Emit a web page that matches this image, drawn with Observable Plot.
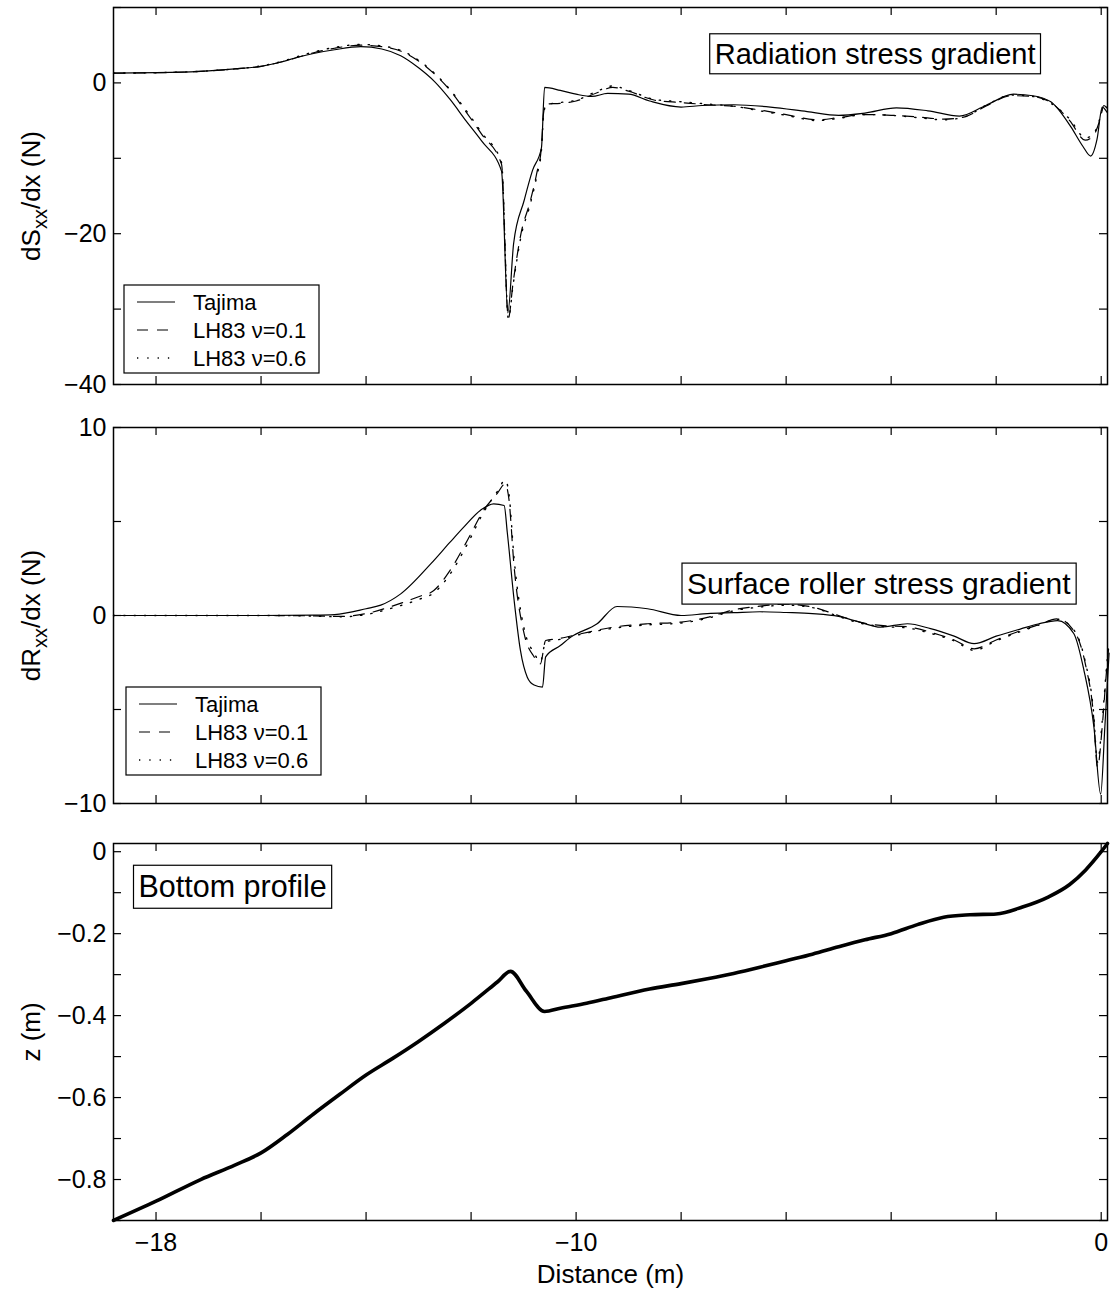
<!DOCTYPE html>
<html>
<head>
<meta charset="utf-8">
<script src="https://cdn.jsdelivr.net/npm/d3@7"></script>
<script src="https://cdn.jsdelivr.net/npm/@observablehq/plot@0.6"></script>
<style>
  body { margin: 0; background: #fff; }
  #chart { position: relative; width: 1111px; height: 1290px; background: #fff; font-family: "Liberation Sans", Arial, Helvetica, sans-serif; }
  #chart svg { position: absolute; left: 0; }
</style>
</head>
<body>
<div id="chart"></div>
<script>
// ---------- shared axis ----------
const xDomain = [-18.81, 0.12];
const xTickValues = [-18, -16, -14, -12, -10, -8, -6, -4, -2, 0];
const xTickLabels = [-18, -10, 0];
const seriesNames = ["Tajima", "LH83 \u03bd=0.1", "LH83 \u03bd=0.6"];

// ---------- panel 1: radiation stress gradient dSxx/dx (N) ----------
const sxxTajimaX = [-18.81,-18,-17,-16.5,-16,-15.6,-15.3,-15,-14.6,-14.1,-13.7,-13.34,-13,-12.7,-12.4,-12.1,-11.8,-11.42,-11.3,-11.19,-10.99,-10.83,-10.66,-10.6,-10.3,-10.0,-9.7,-9.4,-9.0,-8.6,-8.0,-7.6,-7.0,-6.3,-5.6,-5.0,-4.5,-3.9,-3.3,-2.7,-2.2,-1.67,-1.3,-0.96,-0.58,-0.35,-0.2,-0.08,0.02,0.12];
const sxxTajimaY = [1.3,1.35,1.6,1.85,2.2,2.8,3.4,3.9,4.4,4.8,4.5,3.6,2.0,0.2,-2.2,-5.0,-7.7,-11.7,-30.5,-21.3,-15.6,-11.6,-8.6,-0.6,-1.0,-1.5,-1.8,-1.4,-1.5,-2.4,-3.2,-3.0,-2.9,-3.2,-3.8,-4.3,-4.0,-3.3,-3.7,-4.4,-3.0,-1.5,-1.7,-2.5,-5.8,-8.4,-9.7,-7.5,-3.2,-4.0];
const sxxLhX = [-18.81,-18,-17,-16.5,-16,-15.6,-15.3,-15,-14.6,-14.1,-13.7,-13.3,-13,-12.7,-12.4,-12.1,-11.8,-11.42,-11.29,-11.2,-11.05,-10.87,-10.75,-10.66,-10.62,-10.57,-10.3,-10.0,-9.6,-9.3,-9.0,-8.5,-8.0,-7.5,-7.0,-6.5,-6.0,-5.4,-5.0,-4.5,-4.0,-3.5,-3.0,-2.6,-2.2,-1.7,-1.3,-0.96,-0.6,-0.3,-0.15,-0.02,0.05,0.12];
const sxxNu01Y = [1.3,1.35,1.6,1.85,2.2,2.8,3.4,4.0,4.6,5.0,4.8,4.1,2.9,1.2,-1.0,-3.8,-6.8,-10.8,-31.2,-26.5,-20.0,-15.6,-12.0,-8.5,-4.0,-2.8,-2.7,-2.4,-1.3,-0.6,-1.1,-2.3,-2.6,-2.9,-3.1,-3.6,-4.2,-4.9,-4.6,-4.2,-4.3,-4.5,-4.8,-4.5,-3.1,-1.7,-1.8,-2.6,-5.0,-7.6,-7.0,-4.8,-3.0,-3.5];
const sxxNu06Y = [1.3,1.35,1.6,1.85,2.25,2.85,3.5,4.1,4.7,5.1,4.9,4.2,3.0,1.3,-0.9,-3.6,-6.6,-10.6,-31.3,-26.8,-20.4,-16.0,-12.4,-8.9,-4.3,-2.9,-2.6,-2.3,-1.1,-0.4,-1.0,-2.2,-2.5,-2.8,-3.1,-3.7,-4.3,-5.0,-4.7,-4.2,-4.3,-4.6,-4.9,-4.5,-3.0,-1.6,-1.8,-2.7,-4.8,-7.3,-6.8,-4.6,-2.9,-3.4];
const sxxYTicks = [-40, -30, -20, -10, 0, 10];
const sxxYLabels = [-40, -20, 0];

// ---------- panel 2: surface roller stress gradient dRxx/dx (N) ----------
const rxxTajimaX = [-18.81,-17,-16,-15,-14.6,-14.0,-13.72,-13.34,-12.76,-12.4,-12.14,-11.82,-11.57,-11.37,-11.31,-11.18,-11.06,-10.93,-10.8,-10.64,-10.58,-10.3,-10.1,-9.6,-9.22,-8.64,-8.0,-7.5,-7.0,-6.5,-6.0,-5.5,-5.0,-4.6,-4.2,-3.69,-3.25,-2.8,-2.42,-2.0,-1.53,-1.2,-0.83,-0.52,-0.33,-0.14,-0.01,0.07,0.15];
const rxxTajimaY = [0,0,0,0.02,0.05,0.36,0.55,1.15,2.77,3.9,4.7,5.6,5.94,5.85,4.4,0.8,-1.86,-3.28,-3.7,-3.81,-2.2,-1.6,-1.15,-0.44,0.48,0.36,0.0,0.1,0.15,0.2,0.16,0.1,-0.05,-0.35,-0.62,-0.44,-0.7,-1.1,-1.5,-1.1,-0.71,-0.45,-0.27,-0.97,-2.9,-5.9,-9.5,-5.9,-2.0];
const rxxLhX = [-18.81,-16,-15,-14.5,-14.0,-13.5,-13.0,-12.71,-12.4,-12.07,-11.76,-11.5,-11.35,-11.28,-11.18,-10.99,-10.8,-10.68,-10.58,-10.36,-9.91,-9.29,-8.64,-8.0,-7.5,-7.0,-6.5,-6.0,-5.5,-5.0,-4.6,-4.2,-3.7,-3.25,-2.8,-2.42,-2.0,-1.53,-1.2,-0.83,-0.5,-0.3,-0.15,-0.07,0.02,0.1,0.15];
const rxxNu01Y = [0,0,-0.02,-0.05,0.1,0.5,1.0,1.33,2.4,4.0,5.6,6.5,7.0,6.2,2.57,-0.97,-2.2,-2.57,-1.33,-1.24,-0.97,-0.62,-0.44,-0.35,-0.1,0.3,0.5,0.6,0.45,0.0,-0.35,-0.53,-0.6,-0.89,-1.3,-1.77,-1.3,-0.8,-0.5,-0.18,-0.9,-2.6,-5.2,-8.07,-5.9,-3.0,-1.5];
const rxxNu06Y = [0,0,-0.03,-0.07,0.05,0.4,0.85,1.2,2.2,3.8,5.5,6.6,7.2,6.5,3.0,-0.7,-2.0,-2.45,-1.4,-1.3,-1.0,-0.68,-0.5,-0.4,-0.15,0.25,0.45,0.55,0.42,-0.05,-0.4,-0.58,-0.66,-0.95,-1.35,-1.85,-1.35,-0.85,-0.52,-0.2,-0.85,-2.5,-5.0,-7.8,-5.6,-2.8,-1.4];
const rxxYTicks = [-10, -5, 0, 5, 10];
const rxxYLabels = [-10, 0, 10];

// ---------- panel 3: bottom profile z (m) ----------
const zX = [-18.81,-18,-17.15,-16.5,-16,-15.5,-15,-14.5,-14,-13.5,-13,-12.5,-12,-11.5,-11.25,-10.95,-10.6,-10.3,-9.8,-9.3,-8.6,-8.0,-7.5,-7.0,-6.5,-6.0,-5.5,-5.0,-4.5,-4.0,-3.5,-3.0,-2.5,-2.0,-1.5,-1.0,-0.6,-0.3,0,0.12];
const zY = [-0.90,-0.853,-0.80,-0.765,-0.735,-0.69,-0.64,-0.592,-0.545,-0.505,-0.463,-0.418,-0.37,-0.318,-0.292,-0.34,-0.39,-0.382,-0.37,-0.355,-0.335,-0.322,-0.31,-0.297,-0.282,-0.266,-0.25,-0.232,-0.215,-0.2,-0.178,-0.16,-0.154,-0.152,-0.135,-0.11,-0.08,-0.045,0.0,0.02];
const zYTicks = [-0.9, -0.8, -0.7, -0.6, -0.5, -0.4, -0.3, -0.2, -0.1, 0];
const zYLabels = [-0.8, -0.6, -0.4, -0.2, 0];

// ---------- helpers ----------
const FONT = '"Liberation Sans", Arial, Helvetica, sans-serif';
const W = 1111, ML = 113, MR = 4;
const lineStyles = [
  {dash: null, width: 1.2},
  {dash: "11,9", width: 1.2},
  {dash: "1.3,9", width: 1.4}
];
const rows = (xs, ys) => xs.map((x, i) => ({x, y: ys[i]}));
const fmt = d => String(d).replace("-", "\u2212");
const container = document.getElementById("chart");

function makePanel(cfg) {
  const frameW = W - ML - MR;
  const frameH = cfg.height - cfg.mt - cfg.mb;
  const marks = [];
  cfg.series.forEach((s) => {
    marks.push(Plot.line(s.data, {x: "x", y: "y", stroke: "black", strokeWidth: s.width, strokeDasharray: s.dash || undefined, curve: "monotone-x"}));
  });
  marks.push(
    Plot.tickX(xTickValues, {x: d => d, stroke: "black", strokeWidth: 1.2, insetTop: frameH - 8}),
    Plot.tickX(xTickValues, {x: d => d, stroke: "black", strokeWidth: 1.2, insetBottom: frameH - 8}),
    Plot.tickY(cfg.yTicks, {y: d => d, stroke: "black", strokeWidth: 1.2, insetRight: frameW - 8}),
    Plot.tickY(cfg.yTicks, {y: d => d, stroke: "black", strokeWidth: 1.2, insetLeft: frameW - 8}),
    Plot.frame({stroke: "black", strokeWidth: 1.5}),
    Plot.axisY(cfg.yLabels, {tickSize: 0, tickPadding: 7, fontSize: 25, label: null, tickFormat: fmt}),
    Plot.text([cfg.ylabel], {frameAnchor: "left", dx: -82, rotate: -90, fontSize: 26, textAnchor: "middle", lineAnchor: "middle"})
  );
  if (cfg.xAxis) {
    marks.push(
      Plot.axisX(xTickLabels, {tickSize: 0, tickPadding: 13, fontSize: 25, label: null, tickFormat: fmt}),
      Plot.text(["Distance (m)"], {frameAnchor: "bottom", dy: 54, fontSize: 26, textAnchor: "middle", lineAnchor: "middle"})
    );
  }
  if (cfg.title) {
    marks.push(Plot.text([cfg.title.text], {frameAnchor: cfg.title.anchor, dx: cfg.title.dx, dy: cfg.title.dy, textAnchor: cfg.title.textAnchor, lineAnchor: "middle", fontSize: cfg.title.size}));
  }
  const svg = Plot.plot({
    width: W, height: cfg.height,
    marginLeft: ML, marginRight: MR, marginTop: cfg.mt, marginBottom: cfg.mb,
    x: {domain: xDomain, axis: null},
    y: {domain: cfg.yDomain, axis: null},
    style: {fontFamily: FONT, color: "black", background: "transparent", overflow: "visible"},
    marks
  });
  svg.style.top = cfg.top + "px";
  container.appendChild(svg);
  if (cfg.title) boxText(svg, cfg.title.text);
  if (cfg.sub) subscript(svg, cfg.sub);
  if (cfg.legend) addLegend(svg, cfg.legend[0], cfg.legend[1]);
  return svg;
}

function boxText(svg, label) {
  d3.select(svg).selectAll("text").filter(function () { return this.textContent === label; }).each(function () {
    const b = this.getBBox();
    const r = document.createElementNS("http://www.w3.org/2000/svg", "rect");
    r.setAttribute("x", b.x - 5);
    r.setAttribute("y", b.y - 4);
    r.setAttribute("width", b.width + 10);
    r.setAttribute("height", b.height + 8);
    r.setAttribute("fill", "white");
    r.setAttribute("stroke", "black");
    r.setAttribute("stroke-width", 1.2);
    const tr = this.getAttribute("transform");
    if (tr) r.setAttribute("transform", tr);
    this.parentNode.insertBefore(r, this);
  });
}

function subscript(svg, s) {
  d3.select(svg).selectAll("text").filter(function () { return this.textContent === s.full; }).each(function () {
    const t = d3.select(this);
    t.text(null);
    t.append("tspan").text(s.pre);
    t.append("tspan").attr("font-size", 20).attr("dy", 7).text(s.sub);
    t.append("tspan").attr("dy", -7).text(s.post);
  });
}

function addLegend(svg, x0, y0) {
  const g = d3.select(svg).append("g").attr("font-family", FONT).attr("font-size", 22).attr("text-anchor", "start");
  g.append("rect").attr("x", x0).attr("y", y0).attr("width", 195).attr("height", 88)
    .attr("fill", "white").attr("stroke", "black").attr("stroke-width", 1.2);
  seriesNames.forEach((name, i) => {
    const y = y0 + 17 + i * 28;
    g.append("line").attr("x1", x0 + 13).attr("x2", x0 + 51).attr("y1", y).attr("y2", y)
      .attr("stroke", "black").attr("stroke-width", lineStyles[i].width)
      .attr("stroke-dasharray", lineStyles[i].dash);
    g.append("text").attr("x", x0 + 69).attr("y", y).attr("dy", "0.35em")
      .attr("text-anchor", "start").attr("fill", "black").text(name);
  });
}

// ---------- build ----------
makePanel({
  top: 0, height: 400, mt: 7, mb: 16,
  yDomain: [-40, 10], yTicks: sxxYTicks, yLabels: sxxYLabels,
  ylabel: "dSxx/dx (N)", sub: {full: "dSxx/dx (N)", pre: "dS", sub: "xx", post: "/dx (N)"},
  series: [
    {data: rows(sxxTajimaX, sxxTajimaY), ...lineStyles[0]},
    {data: rows(sxxLhX, sxxNu01Y), ...lineStyles[1]},
    {data: rows(sxxLhX, sxxNu06Y), ...lineStyles[2]}
  ],
  title: {text: "Radiation stress gradient", anchor: "top-right", dx: -72, dy: 47, textAnchor: "end", size: 29},
  legend: [124, 285]
});

makePanel({
  top: 410, height: 400, mt: 17, mb: 7,
  yDomain: [-10, 10], yTicks: rxxYTicks, yLabels: rxxYLabels,
  ylabel: "dRxx/dx (N)", sub: {full: "dRxx/dx (N)", pre: "dR", sub: "xx", post: "/dx (N)"},
  series: [
    {data: rows(rxxTajimaX, rxxTajimaY), ...lineStyles[0]},
    {data: rows(rxxLhX, rxxNu01Y), ...lineStyles[1]},
    {data: rows(rxxLhX, rxxNu06Y), ...lineStyles[2]}
  ],
  title: {text: "Surface roller stress gradient", anchor: "top-right", dx: -37, dy: 157, textAnchor: "end", size: 30},
  legend: [126, 277]
});

makePanel({
  top: 820, height: 470, mt: 23, mb: 70,
  yDomain: [-0.9, 0.02], yTicks: zYTicks, yLabels: zYLabels,
  ylabel: "z (m)",
  series: [{data: rows(zX, zY), dash: null, width: 3.6}],
  title: {text: "Bottom profile", anchor: "top-left", dx: 25, dy: 44, textAnchor: "start", size: 30.5},
  xAxis: true
});
</script>
</body>
</html>
